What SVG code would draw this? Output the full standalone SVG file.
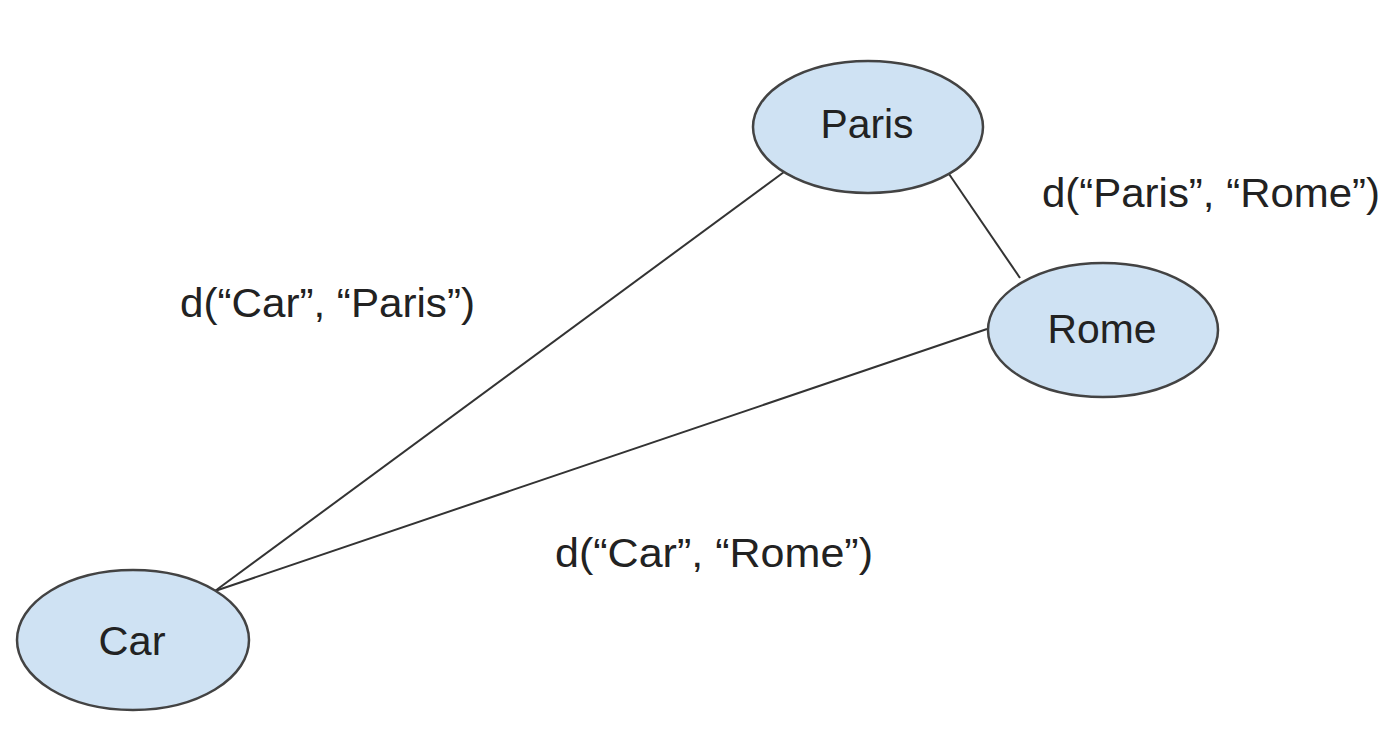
<svg xmlns="http://www.w3.org/2000/svg" width="1395" height="737" viewBox="0 0 1395 737">
<style>
.node ellipse{fill:#cfe2f3;stroke:#434343;stroke-width:2.5}
.node text{font-family:"Liberation Sans",Arial,sans-serif;font-size:40px;fill:#222;text-anchor:middle}
.edge{stroke:#333;stroke-width:2;fill:none}
.lbl{font-family:"Liberation Sans",Arial,sans-serif;font-size:40px;fill:#222}
</style>
<rect width="1395" height="737" fill="#fff"/>
<g id="connectors">
<line class="edge" x1="215" y1="591" x2="784" y2="172"/>
<line class="edge" x1="215" y1="591" x2="987" y2="329"/>
<line class="edge" x1="949" y1="174" x2="1020" y2="278"/>
</g>
<g id="node-paris" class="node">
<ellipse cx="868" cy="127" rx="115" ry="66"/>
<text x="867" y="138" textLength="93" lengthAdjust="spacingAndGlyphs">Paris</text>
</g>
<g id="node-rome" class="node">
<ellipse cx="1103" cy="330" rx="115" ry="67"/>
<text x="1102" y="343" textLength="109" lengthAdjust="spacingAndGlyphs">Rome</text>
</g>
<g id="node-car" class="node">
<ellipse cx="133" cy="640" rx="116" ry="70"/>
<text x="132" y="655" textLength="67" lengthAdjust="spacingAndGlyphs">Car</text>
</g>
<g id="labels">
<text class="lbl" x="180" y="317" textLength="295" lengthAdjust="spacingAndGlyphs">d(“Car”, “Paris”)</text>
<text class="lbl" x="1042" y="207" textLength="338" lengthAdjust="spacingAndGlyphs">d(“Paris”, “Rome”)</text>
<text class="lbl" x="555" y="567" textLength="318" lengthAdjust="spacingAndGlyphs">d(“Car”, “Rome”)</text>
</g>
</svg>
